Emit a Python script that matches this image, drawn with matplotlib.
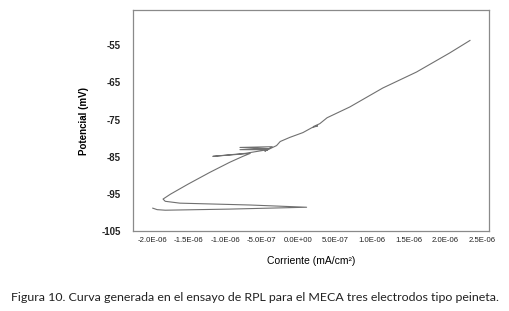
import matplotlib
matplotlib.use('Agg')
import matplotlib.pyplot as plt
from matplotlib.ticker import FuncFormatter

plt.rcParams['axes.unicode_minus'] = False
plt.rcParams['font.family'] = ['Liberation Sans', 'DejaVu Sans']

# corriente (x 1e-6 mA/cm2) y potencial (mV)
corriente = [-1.99, -1.93, -1.82, -0.94, 0.11, -0.66, -1.62, -1.82, -1.85,
             -1.75, -1.51, -1.21, -0.94, -0.76, -0.66, -1.17, -0.73, -0.42,
             -0.80, -0.42, -0.80, -0.36, -0.46, -0.30, -0.25, -0.12, 0.06,
             0.18, 0.26, 0.20, 0.29, 0.39, 0.70, 1.15, 1.61, 2.06, 2.34]
potencial = [-98.85, -99.25, -99.4, -99.1, -98.6, -98.0, -97.5, -97.0, -96.4,
             -95.1, -92.4, -89.2, -86.5, -84.9, -84.1, -84.9, -84.1, -83.1,
             -83.1, -82.8, -82.5, -82.3, -83.5, -82.0, -80.9, -79.8, -78.5,
             -77.2, -76.7, -76.9, -76.1, -74.5, -71.6, -66.5, -62.2, -57.1, -53.7]
corriente = [c * 1e-6 for c in corriente]

xticks = [-2.0e-6, -1.5e-6, -1.0e-6, -5.0e-7, 0.0, 5.0e-7, 1.0e-6, 1.5e-6, 2.0e-6, 2.5e-6]
yticks = [-105, -95, -85, -75, -65, -55]

fig = plt.figure(figsize=(5.09, 3.11), dpi=100)
ax = fig.add_axes([0.2613, 0.2572, 0.6994, 0.7106])

ax.plot(corriente, potencial, color='#707070', linewidth=0.8)

ax.set_xlim(-2.26e-6, 2.6e-6)
ax.set_ylim(-105, -45.5)
ax.set_xticks(xticks)
ax.set_yticks(yticks)
ax.xaxis.set_major_formatter(FuncFormatter(lambda v, p: '{:.1E}'.format(v).replace('-0.0', '0.0')))
ax.tick_params(axis='x', length=0, pad=4, labelsize=5.6, labelcolor='#222222')
ax.tick_params(axis='y', length=0, pad=9, labelsize=7, labelcolor='#222222')
for lbl in ax.get_yticklabels():
    lbl.set_fontweight('bold')

for s in ax.spines.values():
    s.set_color('#8a8a8a')
    s.set_linewidth(0.9)

ax.set_ylabel('Potencial (mV)', fontsize=7, fontweight='bold', labelpad=9)
ax.set_xlabel('Corriente (mA/cm²)', fontsize=7.5, labelpad=9)

fig.text(0.5, 0.045, 'Figura 10. Curva generada en el ensayo de RPL para el MECA tres electrodos tipo peineta.',
         ha='center', va='center', fontsize=8.9, family='Lato', color='#222222')

fig.savefig('out.png', dpi=100)
